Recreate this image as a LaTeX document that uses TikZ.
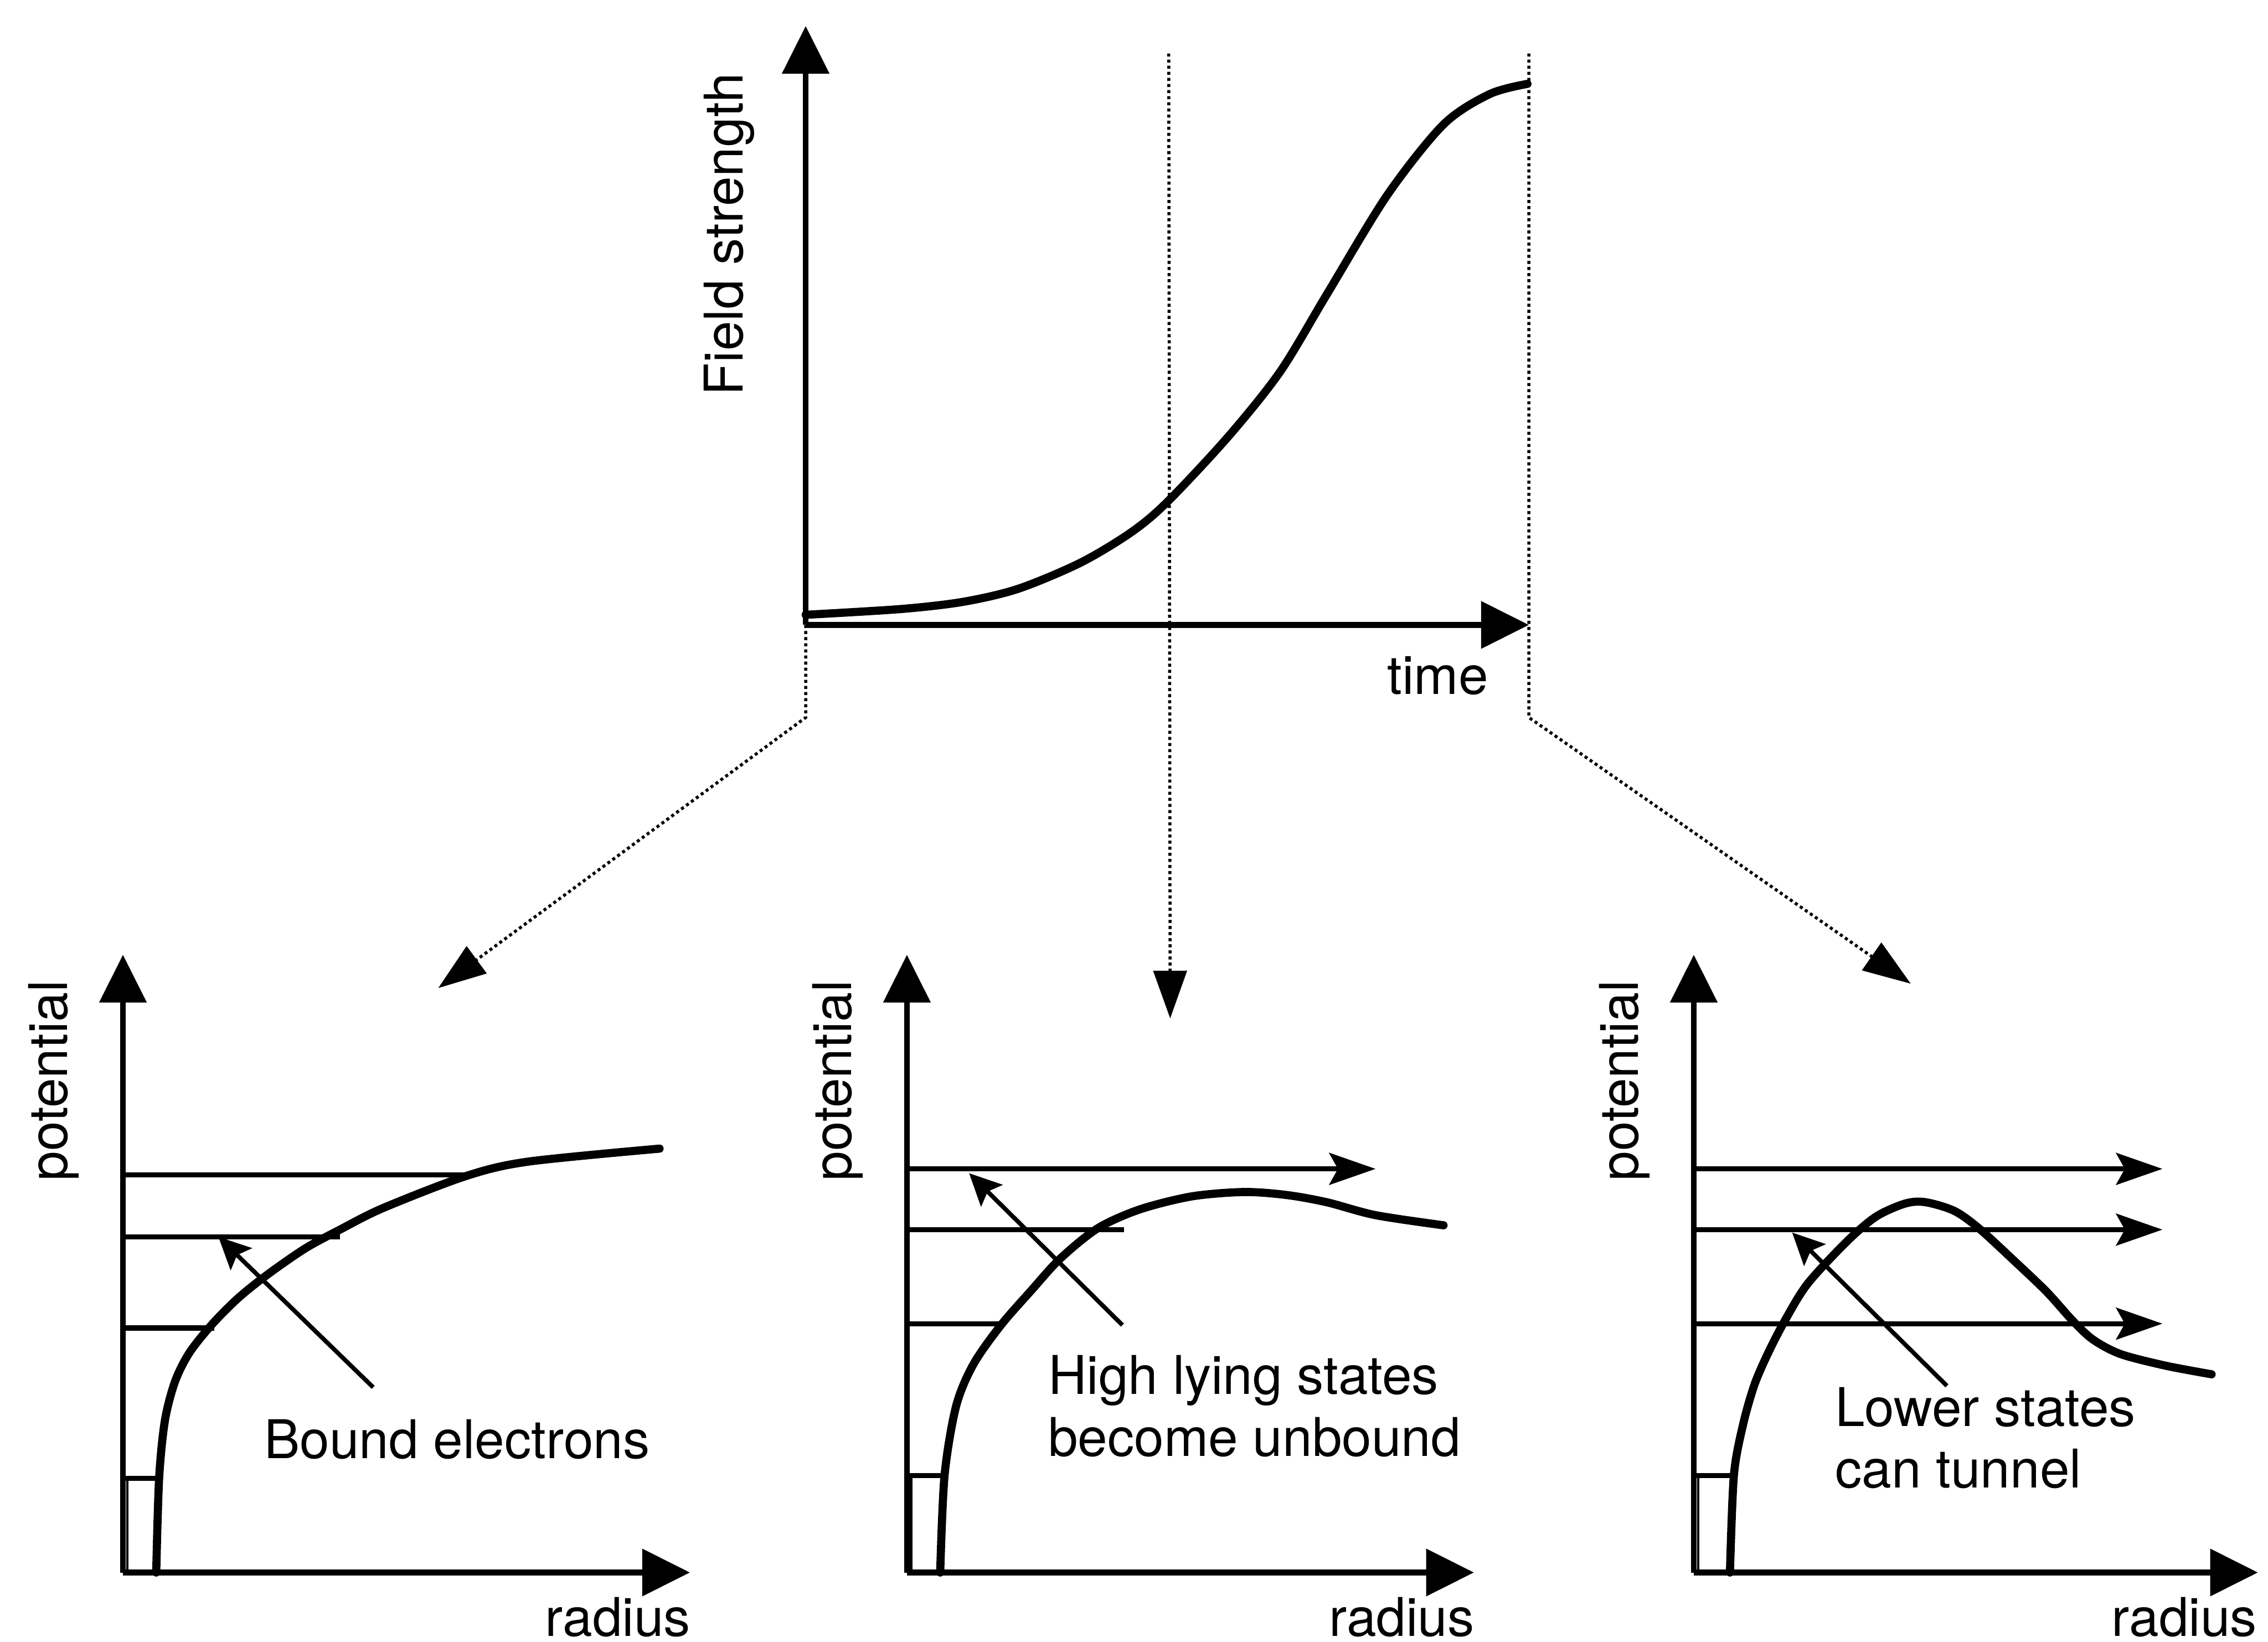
\documentclass[tikz,border=0pt]{standalone}
\usepackage{fontspec}
\setmainfont{TeX Gyre Heros}
\usetikzlibrary{arrows.meta}

\tikzset{
  axis/.style={line width=1.1pt, -{Triangle[length=3.3mm,width=3.2mm]}},
  field/.style={line width=1.6pt, line cap=round},
  level/.style={line width=1pt},
  escape/.style={level, -{Stealth[length=3.2mm,width=2.2mm,inset=0.6mm]}},
  pointer/.style={line width=0.85pt, -{Stealth[length=2.2mm,width=2.1mm,inset=0.4mm]}},
  zoomline/.style={line width=0.6pt, dash pattern=on 0.6pt off 0.6pt, -{Triangle[length=3.3mm,width=2.3mm]}},
  txt/.style={font=\fontsize{10.5}{12.1}\selectfont},
}

\begin{document}
\begin{tikzpicture}
    \useasboundingbox (0,0) rectangle (15.68,11.35);

    % Field strength against time
    \coordinate (tO) at (5.57,7.03);
    \coordinate (tY) at (5.57,11.17);
    \coordinate (tX) at (10.57,7.03);
    \coordinate (tMid) at (8.08,10.98);
    \coordinate (tEnd) at (10.57,10.98);
    \coordinate (bendL) at (5.57,6.39);
    \coordinate (bendR) at (10.57,6.39);
    \coordinate (headL) at (3.03,4.52);
    \coordinate (headM) at (8.09,4.31);
    \coordinate (headR) at (13.21,4.55);

    \draw[axis] (tO) -- (tY);
    \draw[axis] (tO) -- (tX);
    \draw[field] plot[smooth] coordinates {(5.57,7.10) (6.23,7.14) (6.66,7.19) (7.04,7.28) (7.47,7.46) (7.82,7.67) (8.07,7.88) (8.49,8.33) (8.85,8.78) (9.17,9.31) (9.59,10.00) (9.98,10.49) (10.30,10.70) (10.56,10.77)};

    % Dotted lines down to the three snapshots
    \draw[zoomline] (tO) -- (bendL) -- (headL);
    \draw[zoomline] (tMid) -- (headM);
    \draw[zoomline] (tEnd) -- (bendR) -- (headR);

    \node[txt, rotate=90] (fieldlbl) at (5.04,9.73) {Field strength};
    \node[txt, anchor=base] (timelbl) at (9.94,6.55) {time};

    % Snapshot 1: weak field
    \begin{scope}[shift={(0.85,0.48)}]
        \coordinate (aO) at (0,0);
        \coordinate (aY) at (0,4.27);
        \coordinate (aX) at (3.92,0);
        \draw[axis] (aO) -- (aY);
        \draw[axis] (aO) -- (aX);
        \draw[level] (0,2.75) -- (2.40,2.75)
                     (0,2.32) -- (1.50,2.32)
                     (0,1.69) -- (0.63,1.69)
                     (0,0.65) -- (0.25,0.65);
        \draw[line width=0.5pt] (0.03,0) -- (0.03,0.65);
        \draw[field] plot[smooth] coordinates {(0.23,0) (0.25,0.65) (0.29,1.05) (0.36,1.32) (0.46,1.52) (0.62,1.72) (0.80,1.90) (1.00,2.06) (1.26,2.24) (1.50,2.37) (1.80,2.52) (2.37,2.74) (2.80,2.84) (3.71,2.93)};
        \coordinate (aTail) at (1.73,1.28);
        \coordinate (aTip) at (0.66,2.32);
        \draw[pointer] (aTail) -- (aTip);
        \node[txt, anchor=base west, inner sep=0pt] (boundlbl) at (0.97,0.79) {Bound electrons};
        \node[txt, rotate=90] (apot) at (-0.48,3.40) {potential};
        \node[txt, anchor=base east, inner sep=0pt] (arad) at (3.93,-0.44) {radius};
    \end{scope}

    % Snapshot 2: barrier lowered
    \begin{scope}[shift={(6.27,0.48)}]
        \coordinate (bO) at (0,0);
        \coordinate (bY) at (0,4.27);
        \coordinate (bX) at (3.92,0);
        \draw[axis] (bO) -- (bY);
        \draw[axis] (bO) -- (bX);
        \draw[escape] (0,2.79) -- (3.24,2.79);
        \draw[level] (0,2.37) -- (1.50,2.37)
                     (0,1.72) -- (0.65,1.72)
                     (0,0.67) -- (0.25,0.67);
        \draw[line width=0.5pt] (0.03,0) -- (0.03,0.67);
        \draw[field] plot[smooth] coordinates {(0.23,0) (0.26,0.67) (0.34,1.15) (0.46,1.44) (0.65,1.71) (0.86,1.95) (1.06,2.17) (1.32,2.38) (1.61,2.51) (1.97,2.60) (2.33,2.63) (2.62,2.61) (2.90,2.56) (3.24,2.47) (3.71,2.40)};
        \coordinate (bTail) at (1.49,1.71);
        \coordinate (bTip) at (0.43,2.76);
        \draw[pointer] (bTail) -- (bTip);
        \node[txt, align=left, anchor=west, inner sep=0pt] (highlbl) at (0.97,1.15) {High lying states\\become unbound};
        \node[txt, rotate=90] (bpot) at (-0.48,3.40) {potential};
        \node[txt, anchor=base east, inner sep=0pt] (brad) at (3.93,-0.44) {radius};
    \end{scope}

    % Snapshot 3: strong field
    \begin{scope}[shift={(11.71,0.48)}]
        \coordinate (cO) at (0,0);
        \coordinate (cY) at (0,4.27);
        \coordinate (cX) at (3.90,0);
        \draw[axis] (cO) -- (cY);
        \draw[axis] (cO) -- (cX);
        \draw[escape] (0,2.79) -- (3.24,2.79);
        \draw[escape] (0,2.37) -- (3.24,2.37);
        \draw[escape] (0,1.72) -- (3.24,1.72);
        \draw[level] (0,0.67) -- (0.27,0.67);
        \draw[line width=0.5pt] (0.03,0) -- (0.03,0.67);
        \draw[field] plot[smooth] coordinates {(0.25,0) (0.277,0.67) (0.34,1.02) (0.42,1.30) (0.52,1.53) (0.64,1.76) (0.79,2.00) (1.06,2.29) (1.26,2.46) (1.46,2.55) (1.60,2.56) (1.80,2.50) (1.97,2.38) (2.22,2.15) (2.44,1.94) (2.62,1.74) (2.76,1.61) (2.95,1.51) (3.26,1.43) (3.58,1.37)};
        \coordinate (cTail) at (1.75,1.29);
        \coordinate (cTip) at (0.68,2.35);
        \draw[pointer] (cTail) -- (cTip);
        \node[txt, align=left, anchor=west, inner sep=0pt] (lowerlbl) at (0.97,0.93) {Lower states\\can tunnel};
        \node[txt, rotate=90] (cpot) at (-0.48,3.40) {potential};
        \node[txt, anchor=base east, inner sep=0pt] (crad) at (3.90,-0.44) {radius};
    \end{scope}

\end{tikzpicture}
\end{document}
